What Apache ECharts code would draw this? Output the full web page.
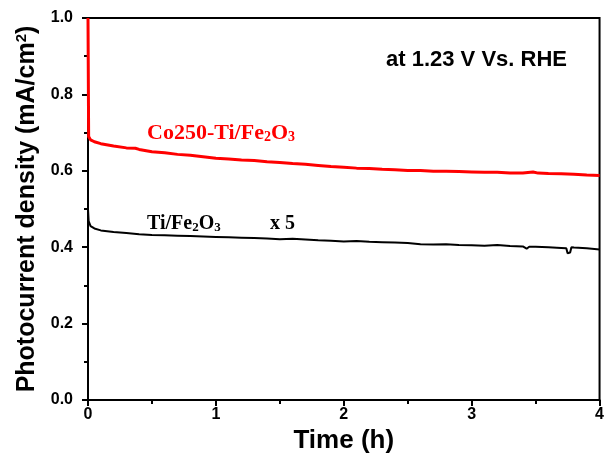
<!DOCTYPE html>
<html>
<head>
<meta charset="utf-8">
<script src="https://cdn.jsdelivr.net/npm/echarts@6/dist/echarts.min.js"></script>
<style>
  html, body { margin: 0; padding: 0; background: #ffffff; }
  #chart { width: 607px; height: 462px; }
</style>
</head>
<body>
<div id="chart"></div>
<script>
// Chronoamperometry at 1.23 V vs. RHE (time in hours, current in mA/cm2)
const timeCo = [0, 0.005, 0.02, 0.05, 0.1, 0.2, 0.3, 0.37, 0.4, 0.5, 0.6, 0.7, 0.8, 0.9, 1.0,
  1.1, 1.2, 1.3, 1.4, 1.5, 1.6, 1.7, 1.8, 1.9, 2.0, 2.1, 2.2, 2.3, 2.4, 2.5, 2.6, 2.7, 2.8,
  2.9, 3.0, 3.1, 3.2, 3.3, 3.4, 3.48, 3.52, 3.6, 3.7, 3.8, 3.9, 4.0];
const currentCo = [1.0, 0.690, 0.681, 0.676, 0.671, 0.665, 0.660, 0.659, 0.656, 0.650, 0.647,
  0.643, 0.641, 0.637, 0.633, 0.631, 0.628, 0.627, 0.624, 0.622, 0.619, 0.617, 0.614, 0.611,
  0.609, 0.607, 0.606, 0.604, 0.603, 0.601, 0.601, 0.599, 0.599, 0.598, 0.597, 0.596, 0.596,
  0.594, 0.594, 0.597, 0.594, 0.593, 0.592, 0.591, 0.589, 0.588];

// Bare Ti/Fe2O3 photoanode, current multiplied by 5
const timeTi = [0, 0.005, 0.02, 0.05, 0.1, 0.2, 0.3, 0.4, 0.5, 0.6, 0.7, 0.8, 0.9, 1.0, 1.1,
  1.2, 1.3, 1.4, 1.5, 1.6, 1.7, 1.8, 1.9, 2.0, 2.1, 2.2, 2.3, 2.4, 2.5, 2.6, 2.7, 2.8, 2.9,
  3.0, 3.1, 3.2, 3.3, 3.4, 3.43, 3.45, 3.5, 3.6, 3.7, 3.74, 3.75, 3.77, 3.78, 3.8, 3.9, 4.0];
const currentTi = [0.50, 0.468, 0.455, 0.449, 0.444, 0.440, 0.437, 0.434, 0.432, 0.431, 0.430,
  0.429, 0.428, 0.427, 0.426, 0.425, 0.424, 0.423, 0.421, 0.422, 0.420, 0.418, 0.417, 0.415,
  0.416, 0.414, 0.413, 0.412, 0.411, 0.408, 0.407, 0.408, 0.406, 0.405, 0.404, 0.406, 0.403,
  0.402, 0.396, 0.401, 0.401, 0.400, 0.398, 0.397, 0.384, 0.386, 0.400, 0.399, 0.397, 0.394];

const yTicks = ['0.0', '0.2', '0.4', '0.6', '0.8', '1.0'];
const xTicks = ['0', '1', '2', '3', '4'];

const pair = (xs, ys) => xs.map((x, i) => [x, ys[i]]);

const chart = echarts.init(document.getElementById('chart'), null, { renderer: 'canvas' });

const axisFont = { fontFamily: 'Arial, "Liberation Sans", sans-serif', fontWeight: 'bold', color: '#000' };

chart.setOption({
  animation: false,
  backgroundColor: '#ffffff',
  grid: {
    left: 88, right: 3, top: 18, bottom: 62,
    show: true, borderColor: '#000', borderWidth: 2, backgroundColor: 'transparent'
  },
  xAxis: {
    type: 'value', min: 0, max: 4, interval: 1,
    axisLine: { show: true, lineStyle: { color: '#000', width: 2 } },
    axisTick: { show: true, length: 6, lineStyle: { color: '#000', width: 2 } },
    minorTick: { show: true, splitNumber: 2, length: 4, lineStyle: { color: '#000', width: 2 } },
    splitLine: { show: false },
    axisLabel: Object.assign({ fontSize: 16, margin: 7, formatter: v => xTicks[Math.round(v)] }, axisFont),
    name: 'Time (h)', nameLocation: 'middle', nameGap: 28,
    nameTextStyle: Object.assign({}, axisFont, { fontSize: 26 })
  },
  yAxis: {
    type: 'value', min: 0, max: 1.0, interval: 0.2,
    axisLine: { show: true, lineStyle: { color: '#000', width: 2 } },
    axisTick: { show: true, length: 6, lineStyle: { color: '#000', width: 2 } },
    minorTick: { show: true, splitNumber: 2, length: 4, lineStyle: { color: '#000', width: 2 } },
    splitLine: { show: false },
    axisLabel: Object.assign({ fontSize: 16, margin: 15, formatter: v => yTicks[Math.round(v * 5)] }, axisFont),
    name: '{a|Photocurrent density (mA/cm}{sup|2}{a|)}',
    nameLocation: 'middle', nameGap: 45,
    nameTextStyle: {
      rich: {
        a: Object.assign({}, axisFont, { fontSize: 25 }),
        sup: Object.assign({}, axisFont, { fontSize: 15, verticalAlign: 'top', padding: [0, 0, 10, 0] })
      }
    }
  },
  series: [
    {
      name: 'Co250-Ti/Fe2O3', type: 'line', data: pair(timeCo, currentCo),
      showSymbol: false, lineStyle: { color: '#ff0000', width: 3 }, itemStyle: { color: '#ff0000' }
    },
    {
      name: 'Ti/Fe2O3 x 5', type: 'line', data: pair(timeTi, currentTi),
      showSymbol: false, lineStyle: { color: '#000000', width: 2 }, itemStyle: { color: '#000' }
    }
  ],
  graphic: [
    {
      type: 'text', x: 386, y: 60,
      style: {
        text: 'at 1.23 V Vs. RHE', fill: '#000', verticalAlign: 'middle',
        font: 'bold 22px Arial, "Liberation Sans", sans-serif'
      }
    },
    {
      type: 'text', x: 147, y: 133,
      style: {
        text: '{a|Co250-Ti/Fe}{s|2}{a|O}{s|3}', verticalAlign: 'middle',
        rich: {
          a: { fontFamily: '"Times New Roman", "Liberation Serif", serif', fontWeight: 'bold', fontSize: 22, fill: '#ff0000' },
          s: { fontFamily: '"Times New Roman", "Liberation Serif", serif', fontWeight: 'bold', fontSize: 14, fill: '#ff0000', verticalAlign: 'bottom' }
        }
      }
    },
    {
      type: 'text', x: 147, y: 224,
      style: {
        text: '{a|Ti/Fe}{s|2}{a|O}{s|3}', verticalAlign: 'middle',
        rich: {
          a: { fontFamily: '"Times New Roman", "Liberation Serif", serif', fontWeight: 'bold', fontSize: 20, fill: '#000' },
          s: { fontFamily: '"Times New Roman", "Liberation Serif", serif', fontWeight: 'bold', fontSize: 13, fill: '#000', verticalAlign: 'bottom' }
        }
      }
    },
    {
      type: 'text', x: 270, y: 224,
      style: {
        text: 'x 5', fill: '#000', verticalAlign: 'middle',
        font: 'bold 20px "Times New Roman", "Liberation Serif", serif'
      }
    }
  ]
});
</script>
</body>
</html>
